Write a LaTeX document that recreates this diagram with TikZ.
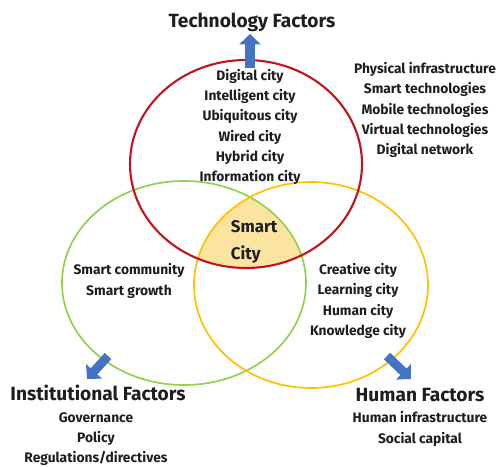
\documentclass[tikz,border=0pt]{standalone}
\usepackage{fontspec}
\setmainfont{Fira Sans}
\usepackage{tikz}
\usetikzlibrary{arrows.meta}
\definecolor{scRed}{RGB}{192,20,30}
\definecolor{scGreen}{RGB}{146,208,80}
\definecolor{scGold}{RGB}{255,192,0}
\definecolor{scFill}{RGB}{251,227,160}
\definecolor{scBlue}{RGB}{68,114,196}
\definecolor{scText}{RGB}{30,30,30}

\begin{document}
\begin{tikzpicture}[
  x=0.025cm,y=-0.025cm,
  listing/.style={align=center,text=scText,font=\fontsize{9.8}{14.4}\selectfont\bfseries},
  factor/.style={align=center,text=scText,font=\fontsize{13.6}{16}\selectfont\bfseries},
  ring/.style={line width=1.2pt},
  blockarrow/.style={-{Triangle[width=0.525cm,length=0.26cm]},line width=0.225cm,scBlue}
]
  \useasboundingbox (0,0) rectangle (502,467);

  % shared core of the three rings
  \begin{scope}
    \clip (246,164) ellipse [x radius=116,y radius=104];
    \clip (184,283) ellipse [x radius=122,y radius=102];
    \fill[scFill] (311,285) ellipse [x radius=117,y radius=103];
  \end{scope}

  \draw[ring,scGreen] (184,283) ellipse [x radius=122,y radius=102];
  \draw[ring,scGold] (311,285) ellipse [x radius=117,y radius=103];
  \draw[ring,scRed,line width=1.5pt] (246,164) ellipse [x radius=116,y radius=104];

  \node[factor] (tech) at (252,22) {Technology Factors};
  \node[factor] (inst) at (98,393) {Institutional Factors};
  \node[factor] (human) at (420,395) {Human Factors};

  \coordinate (techfoot) at (250,68);
  \coordinate (techtip) at (250,34);
  \coordinate (instfoot) at (108,356);
  \coordinate (insttip) at (87,379);
  \coordinate (humanfoot) at (387,356);
  \coordinate (humantip) at (411,379);
  \draw[blockarrow] (techfoot) -- (techtip);
  \draw[blockarrow] (instfoot) -- (insttip);
  \draw[blockarrow] (humanfoot) -- (humantip);

  \node[listing] (techcities) at (250,127) {Digital city\\Intelligent city\\Ubiquitous city\\Wired city\\Hybrid city\\Information city};
  \node[listing] (techlist) at (425,110) {Physical infrastructure\\Smart technologies\\Mobile technologies\\Virtual technologies\\Digital network};
  \node[listing] (instcities) at (129,281) {Smart community\\Smart growth};
  \node[listing] (humancities) at (358,301) {Creative city\\Learning city\\Human city\\Knowledge city};
  \node[listing] (instlist) at (96,439) {Governance\\Policy\\Regulations/directives};
  \node[listing] (humanlist) at (420,429) {Human infrastructure\\Social capital};

  \node[align=left,anchor=west,text=scText,font=\fontsize{12}{19}\selectfont\bfseries] (core) at (226,242) {Smart\\City};
\end{tikzpicture}
\end{document}
